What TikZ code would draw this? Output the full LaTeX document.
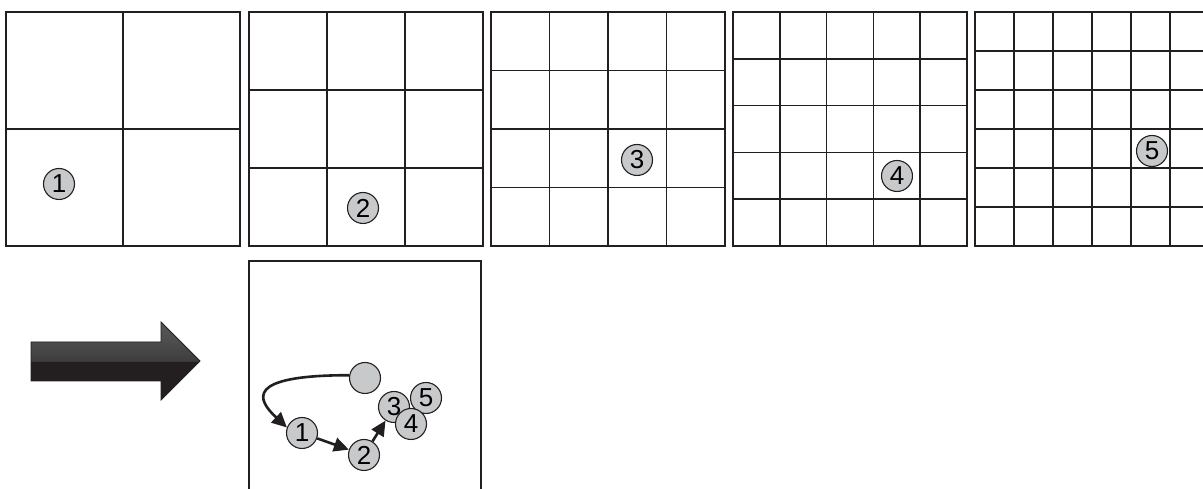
\documentclass[tikz,border=0pt]{standalone}
\usepackage{fontspec}
\setmainfont{Liberation Sans}
\usetikzlibrary{arrows.meta}
\definecolor{inkline}{RGB}{35,31,32}
\definecolor{spotfill}{RGB}{200,201,203}
% glossy fill for the big arrow (path spans 25bp..75bp)
\pgfdeclareverticalshading{glossy}{100bp}{
  color(0bp)=(inkline); color(49.6bp)=(inkline);
  color(50bp)=(black!76); color(62bp)=(black!70);
  color(75bp)=(black!66); color(100bp)=(black!66)}

\begin{document}
\begin{tikzpicture}[
  x=1pt, y=1pt,
  gridline/.style={draw=inkline, line width=1.7pt},
  spot/.style={circle, draw=inkline, line width=1.1pt, fill=spotfill,
               minimum size=31pt, inner sep=0pt,
               font=\fontsize{26}{26}\selectfont},
  link/.style={draw=inkline, line width=2.6pt,
               -{Triangle[length=15pt,width=14pt]}}
]
  \useasboundingbox (0,0) rectangle (1203,489);
  \clip (0,0) rectangle (1203,489);

  % grids of growing resolution
  \foreach \n/\x in {2/6, 3/249, 4/491, 5/733, 6/975} {
    \begin{scope}[shift={(\x,243)}]
      \draw[gridline] (0,0) grid[xstep=234/\n, ystep=234/\n] (234,234);
      \draw[gridline] (0,0) rectangle (234,234);
    \end{scope}
  }

  \node[spot] (g1) at (59,305)   {1};
  \node[spot] (g2) at (363,281)  {2};
  \node[spot] (g3) at (637,329)  {3};
  \node[spot] (g4) at (897,313)  {4};
  \node[spot] (g5) at (1152,338) {5};

  % big arrow
  \shade[shading=glossy, draw=inkline, line width=0.8pt]
    (31,108) -- (31,147) -- (161,147) -- (161,167) -- (200,128)
    -- (161,89) -- (161,108) -- cycle;

  % result panel
  \draw[gridline] (249,0) -- (249,228) -- (481,228) -- (481,0);

  \node[spot] (start) at (365,111) {};
  \node[spot] (b1) at (302,56) {1};
  \node[spot] (b2) at (364,34) {2};
  \node[spot] (b3) at (394,82) {3};
  \node[spot] (b5) at (426,91) {5};
  \node[spot] (b4) at (411,65) {4};

  \draw[link] (start.170) .. controls +(-105,0) and +(-30,28) .. (b1.160);
  \draw[link] (b1) -- (b2);
  \draw[link] (b2) -- (b3);
\end{tikzpicture}
\end{document}
